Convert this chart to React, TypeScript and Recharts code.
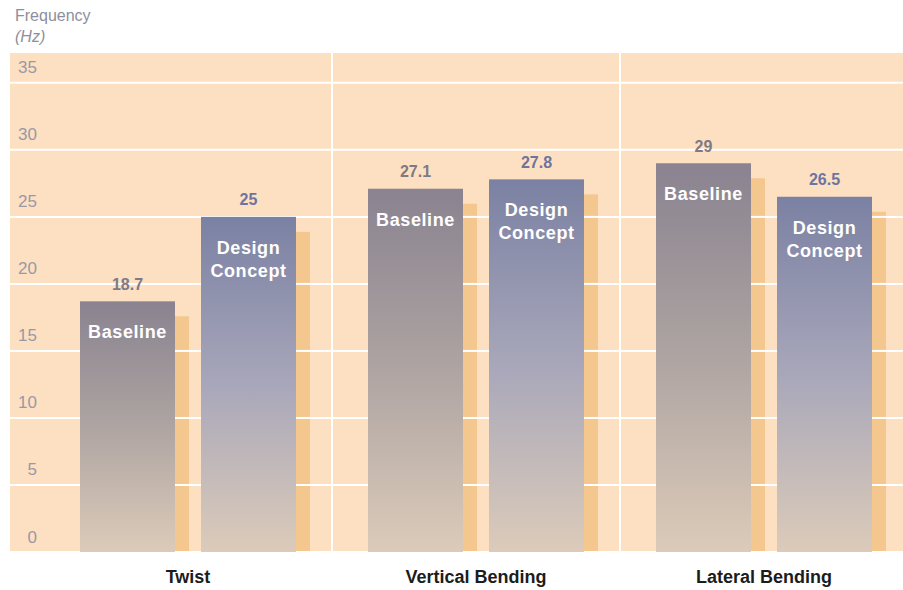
import React from "react";
import { BarChart, Bar, XAxis, YAxis, CartesianGrid, LabelList } from "recharts";

const categories = ["Twist", "Vertical Bending", "Lateral Bending"];
const baseline = [18.7, 27.1, 29];
const designConcept = [25, 27.8, 26.5];
const yTicks = [0, 5, 10, 15, 20, 25, 30, 35];
const baselineLines = ["Baseline"];
const designLines = ["Design", "Concept"];

const data = categories.map((name, i) => ({
    name,
    baseline: baseline[i],
    design: designConcept[i],
}));

const FONT = "'Liberation Sans', Arial, Helvetica, sans-serif";
const BG = "#fde0c1";
const SHADOW = "#f4c78f";
const PAD_LEFT = 34;

// bar with an offset drop shadow; grid lines run over the shadow but under the bar
function ShadowBar(props: any) {
    const { x, y, width, height, fill, value } = props;
    if (!height || height <= 0) return null;
    const v = Array.isArray(value) ? value[1] - value[0] : value;
    const base = y + height;
    const k = height / v;
    return (
        <g>
            <rect x={x + 14} y={y + 15} width={width} height={Math.max(height - 15, 0)} fill={SHADOW} />
            {yTicks.map((t) => {
                const py = base - t * k;
                if (py < y + 15 || py > base) return null;
                return (
                    <line key={t} x1={x + width} x2={x + width + 14} y1={py} y2={py} stroke="#fff" strokeWidth={2} />
                );
            })}
            <rect x={x} y={y} width={width} height={height} fill={fill} />
        </g>
    );
}

const valueLabel = (color: string) => (p: any) => (
    <text
        x={p.x + p.width / 2}
        y={p.y - 17}
        textAnchor="middle"
        dominantBaseline="central"
        fill={color}
        fontFamily={FONT}
        fontWeight="bold"
        fontSize={16}
    >
        {p.value}
    </text>
);

const innerLabel = (lines: string[]) => (p: any) => (
    <text
        textAnchor="middle"
        fill="#fff"
        fontFamily={FONT}
        fontWeight="bold"
        fontSize={18}
        letterSpacing={0.6}
    >
        {lines.map((s, i) => (
            <tspan key={s} x={p.x + p.width / 2} y={p.y + 37 + i * 23}>
                {s}
            </tspan>
        ))}
    </text>
);

const YTick = (p: any) => (
    <text
        x={37}
        y={p.y - 15}
        textAnchor="end"
        dominantBaseline="central"
        fill="#9a98a6"
        fontFamily={FONT}
        fontSize={17}
    >
        {p.payload.value}
    </text>
);

const XTick = (p: any) => (
    <text
        x={p.x}
        y={p.y + 25}
        textAnchor="middle"
        dominantBaseline="central"
        fill="#1c1c1c"
        fontFamily={FONT}
        fontWeight="bold"
        fontSize={18}
    >
        {p.payload.value}
    </text>
);

// separators between the category bands
const bandEdges = ({ offset }: any) => {
    const band = (offset.width - PAD_LEFT) / categories.length;
    return categories.slice(1).map((_, i) => offset.left + PAD_LEFT + band * (i + 1));
};

export default function App() {
    return (
        <div style={{ position: "absolute", left: 0, top: 0, width: 903, height: 590, overflow: "hidden", background: "#fff" }}>
            <BarChart
                width={908}
                height={590}
                data={data}
                margin={{ top: 52, right: 0, bottom: 0, left: 10 }}
                barSize={95}
                barGap={26}
            >
                <defs>
                    <linearGradient id="gBase" x1="0" y1="0" x2="0" y2="1">
                        <stop offset="0%" stopColor="#8a8390" />
                        <stop offset="50%" stopColor="#aea4a2" />
                        <stop offset="100%" stopColor="#dccbb9" />
                    </linearGradient>
                    <linearGradient id="gDesign" x1="0" y1="0" x2="0" y2="1">
                        <stop offset="0%" stopColor="#7b81a3" />
                        <stop offset="50%" stopColor="#a8a7ba" />
                        <stop offset="100%" stopColor="#dccbb9" />
                    </linearGradient>
                </defs>
                <CartesianGrid
                    fill={BG}
                    fillOpacity={1}
                    stroke="#fff"
                    strokeWidth={2}
                    verticalCoordinatesGenerator={bandEdges}
                />
                <XAxis
                    dataKey="name"
                    height={38}
                    padding={{ left: PAD_LEFT, right: 0 }}
                    axisLine={false}
                    tickLine={false}
                    tickSize={0}
                    tickMargin={0}
                    tick={<XTick />}
                    interval={0}
                />
                <YAxis
                    mirror
                    width={40}
                    domain={[0, 37.3]}
                    ticks={yTicks}
                    axisLine={false}
                    tickLine={false}
                    tick={<YTick />}
                    interval={0}
                />
                <Bar dataKey="baseline" fill="url(#gBase)" shape={<ShadowBar />} isAnimationActive={false}>
                    <LabelList dataKey="baseline" content={valueLabel("#7e7a86")} />
                    <LabelList dataKey="baseline" content={innerLabel(baselineLines)} />
                </Bar>
                <Bar dataKey="design" fill="url(#gDesign)" shape={<ShadowBar />} isAnimationActive={false}>
                    <LabelList dataKey="design" content={valueLabel("#6d74a0")} />
                    <LabelList dataKey="design" content={innerLabel(designLines)} />
                </Bar>
            </BarChart>
            <svg width={200} height={50} style={{ position: "absolute", left: 0, top: 0, pointerEvents: "none" }}>
                <text x={15} y={21} fill="#8e8e9c" fontFamily={FONT} fontSize={16}>
                    Frequency
                </text>
                <text x={15} y={42} fill="#8e8e9c" fontFamily={FONT} fontSize={16} fontStyle="italic">
                    (Hz)
                </text>
            </svg>
        </div>
    );
}
